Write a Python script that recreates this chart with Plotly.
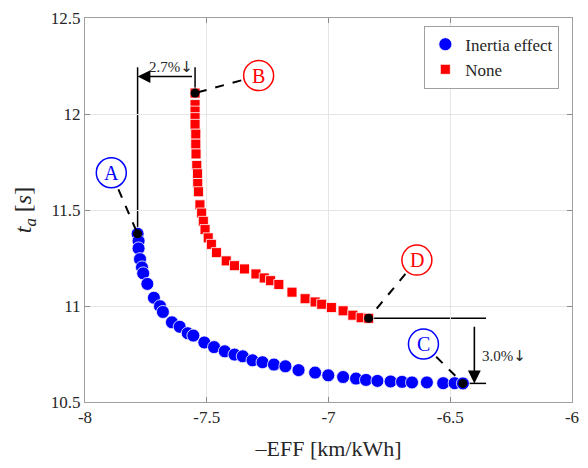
import plotly.graph_objects as go

# ---- data ----
inertia_eff = [-7.784, -7.780, -7.780, -7.774, -7.766, -7.761, -7.744, -7.717, -7.692, -7.680,
               -7.643, -7.611, -7.578, -7.555, -7.510, -7.470, -7.426, -7.386, -7.352, -7.312,
               -7.271, -7.224, -7.177, -7.123, -7.055, -7.001, -6.940, -6.887, -6.846, -6.799,
               -6.745, -6.698, -6.657, -6.596, -6.529, -6.482, -6.448]
inertia_ta = [11.376, 11.338, 11.300, 11.244, 11.201, 11.170, 11.115, 11.043, 10.999, 10.969,
              10.915, 10.892, 10.858, 10.846, 10.810, 10.786, 10.764, 10.747, 10.738, 10.717,
              10.707, 10.695, 10.686, 10.666, 10.653, 10.639, 10.630, 10.622, 10.615, 10.610,
              10.607, 10.605, 10.602, 10.602, 10.598, 10.598, 10.597]

none_eff = [-7.548, -7.548, -7.548, -7.548, -7.548, -7.545, -7.545, -7.544, -7.541, -7.538,
            -7.537, -7.534, -7.528, -7.521, -7.514, -7.507, -7.494, -7.481, -7.460, -7.420,
            -7.386, -7.345, -7.298, -7.264, -7.238, -7.204, -7.150, -7.096, -7.055, -7.028,
            -6.988, -6.940, -6.900, -6.866, -6.835]
none_ta = [12.109, 12.049, 12.015, 11.981, 11.946, 11.895, 11.843, 11.792, 11.732, 11.689,
           11.638, 11.595, 11.527, 11.484, 11.441, 11.398, 11.355, 11.321, 11.278, 11.235,
           11.210, 11.193, 11.167, 11.146, 11.132, 11.112, 11.072, 11.038, 11.021, 11.009,
           10.992, 10.975, 10.952, 10.939, 10.936]

x_tickvals = [-8, -7.5, -7, -6.5, -6]
x_ticklabels = ["-8", "-7.5", "-7", "-6.5", "-6"]
y_tickvals = [10.5, 11, 11.5, 12, 12.5]
y_ticklabels = ["10.5", "11", "11.5", "12", "12.5"]

series_names = ["Inertia effect", "None"]
label_letters = ["A", "B", "C", "D"]
label_centers_x = [-7.892, -7.287, -6.610, -6.637]
label_centers_y = [11.694, 12.200, 10.802, 11.239]
pct_values = ["2.7%", "3.0%"]

FONT = "Liberation Serif"
BLUE = "#0000ff"
RED = "#ff0000"
TXT = "#262626"
DOWN = "<span style='font-family:DejaVu Sans'>\u2193</span>"

fig = go.Figure()
fig.add_trace(go.Scatter(x=inertia_eff, y=inertia_ta, mode="markers", name=series_names[0],
                         marker=dict(symbol="circle", size=13, color=BLUE,
                                     line=dict(color="white", width=0.8))))
fig.add_trace(go.Scatter(x=none_eff, y=none_ta, mode="markers", name=series_names[1],
                         marker=dict(symbol="square", size=10, color=RED,
                                     line=dict(color="white", width=0.8))))

# key points A, B, C, D
key_x = [inertia_eff[0], none_eff[0], inertia_eff[-1], none_eff[-1]]
key_y = [inertia_ta[0], none_ta[0], inertia_ta[-1], none_ta[-1]]
fig.add_trace(go.Scatter(x=key_x, y=key_y, mode="markers", showlegend=False,
                         marker=dict(symbol="circle", size=9, color="black")))

shapes = []
annotations = []
label_colors = [BLUE, RED, BLUE, RED]
for i in range(4):
    shapes.append(dict(type="line", xref="x", yref="y",
                       x0=label_centers_x[i], y0=label_centers_y[i], x1=key_x[i], y1=key_y[i],
                       line=dict(color="black", width=2, dash="dash"), layer="above"))
for i in range(4):
    shapes.append(dict(type="circle", xref="x", yref="y", xsizemode="pixel", ysizemode="pixel",
                       xanchor=label_centers_x[i], yanchor=label_centers_y[i],
                       x0=-15, x1=15, y0=-15, y1=15,
                       fillcolor="white", line=dict(color=label_colors[i], width=1.5), layer="above"))
    annotations.append(dict(x=label_centers_x[i], y=label_centers_y[i], xref="x", yref="y",
                            text=label_letters[i], showarrow=False,
                            font=dict(family=FONT, size=20, color=label_colors[i])))

# 2.7% bracket (A vs B)
top_y = 12.243
arrow_y = 12.195
shapes.append(dict(type="line", xref="x", yref="y", x0=key_x[0], x1=key_x[0], y0=top_y, y1=key_y[0],
                   line=dict(color="black", width=1.5), layer="below"))
shapes.append(dict(type="line", xref="x", yref="y", x0=key_x[1], x1=key_x[1], y0=top_y, y1=key_y[1],
                   line=dict(color="black", width=1.5), layer="below"))
annotations.append(dict(x=key_x[0], y=arrow_y, ax=key_x[1], ay=arrow_y, xref="x", yref="y",
                        axref="x", ayref="y", showarrow=True, arrowhead=2, arrowsize=1.6,
                        arrowwidth=1.6, arrowcolor="black", text=" "))
annotations.append(dict(x=(key_x[0] + key_x[1]) / 2 + 0.02, y=arrow_y, xref="x", yref="y",
                        text=pct_values[0] + DOWN, showarrow=False, yanchor="bottom", yshift=-1,
                        font=dict(family=FONT, size=15, color=TXT)))

# 3.0% bracket (C vs D)
right_x = -6.353
arrow_x = -6.401
shapes.append(dict(type="line", xref="x", yref="y", x0=key_x[3], x1=right_x, y0=key_y[3], y1=key_y[3],
                   line=dict(color="black", width=1.5), layer="below"))
shapes.append(dict(type="line", xref="x", yref="y", x0=key_x[2], x1=right_x, y0=key_y[2], y1=key_y[2],
                   line=dict(color="black", width=1.5), layer="below"))
annotations.append(dict(x=arrow_x, y=key_y[2], ax=arrow_x, ay=key_y[3], xref="x", yref="y",
                        axref="x", ayref="y", showarrow=True, arrowhead=2, arrowsize=1.6,
                        arrowwidth=1.6, arrowcolor="black", text=" "))
annotations.append(dict(x=arrow_x, y=10.742, xref="x", yref="y", xanchor="left", xshift=6,
                        text=pct_values[1] + DOWN, showarrow=False,
                        font=dict(family=FONT, size=15, color=TXT)))

axis_common = dict(showgrid=True, gridcolor="#e5e5e5", gridwidth=1, zeroline=False,
                   showline=True, linecolor="#a0a0a0", linewidth=1, mirror="ticks",
                   ticks="inside", ticklen=5, tickcolor="#8a8a8a",
                   tickfont=dict(family=FONT, size=17, color=TXT))

fig.update_layout(
    width=588, height=468,
    margin=dict(l=85, r=9, t=14, b=66),
    paper_bgcolor="white", plot_bgcolor="white",
    font=dict(family=FONT, color=TXT),
    xaxis=dict(range=[-8, -6], tickvals=x_tickvals, ticktext=x_ticklabels,
               title=dict(text="\u2013EFF [km/kWh]", font=dict(family=FONT, size=22, color=TXT),
                          standoff=14),
               **axis_common),
    yaxis=dict(range=[10.5, 12.5], tickvals=y_tickvals, ticktext=y_ticklabels,
               title=dict(text="<i>t</i><sub><i>a</i></sub> [<i>s</i>]",
                          font=dict(family=FONT, size=24, color=TXT), standoff=12),
               **axis_common),
    legend=dict(x=0.974, y=0.98, xanchor="right", yanchor="top",
                bgcolor="white", bordercolor="#a0a0a0", borderwidth=1,
                font=dict(family=FONT, size=17, color=TXT),
                itemwidth=30, tracegroupgap=0),
    shapes=shapes, annotations=annotations, showlegend=True,
)

fig.write_html("out.html")
